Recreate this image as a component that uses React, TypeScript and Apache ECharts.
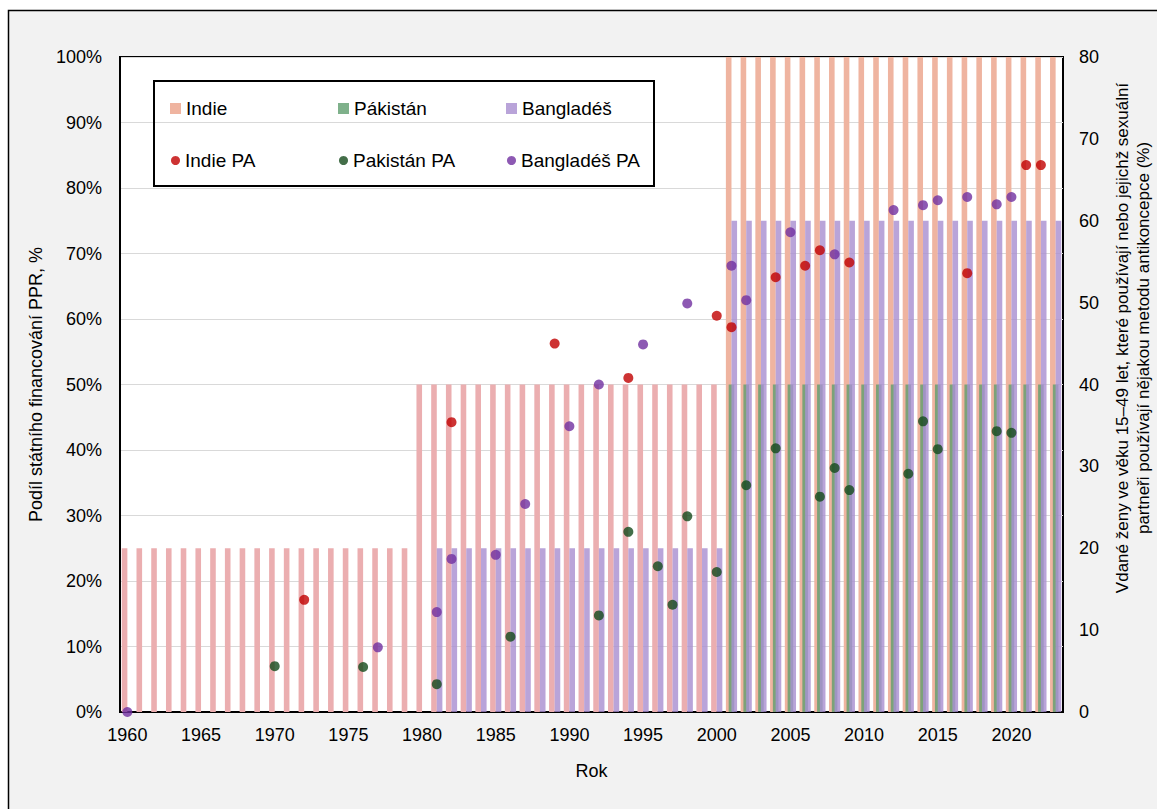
import React, { useEffect, useRef } from "react";
import * as echarts from "echarts";

const years = [
  "1960","1961","1962","1963","1964","1965","1966","1967","1968","1969",
  "1970","1971","1972","1973","1974","1975","1976","1977","1978","1979",
  "1980","1981","1982","1983","1984","1985","1986","1987","1988","1989",
  "1990","1991","1992","1993","1994","1995","1996","1997","1998","1999",
  "2000","2001","2002","2003","2004","2005","2006","2007","2008","2009",
  "2010","2011","2012","2013","2014","2015","2016","2017","2018","2019",
  "2020","2021","2022","2023",
];

// Share of state financing of family planning (%), per year
const indieBars = [
  25,25,25,25,25,25,25,25,25,25,
  25,25,25,25,25,25,25,25,25,25,
  50,50,50,50,50,50,50,50,50,50,
  50,50,50,50,50,50,50,50,50,50,
  50,100,100,100,100,100,100,100,100,100,
  100,100,100,100,100,100,100,100,100,100,
  100,100,100,100,
];
const pakistanBars = [
  0,0,0,0,0,0,0,0,0,0,
  0,0,0,0,0,0,0,0,0,0,
  0,0,0,0,0,0,0,0,0,0,
  0,0,0,0,0,0,0,0,0,0,
  0,50,50,50,50,50,50,50,50,50,
  50,50,50,50,50,50,50,50,50,50,
  50,50,50,50,
];
const bangladeshBars = [
  0,0,0,0,0,0,0,0,0,0,
  0,0,0,0,0,0,0,0,0,0,
  0,25,25,25,25,25,25,25,25,25,
  25,25,25,25,25,25,25,25,25,25,
  25,75,75,75,75,75,75,75,75,75,
  75,75,75,75,75,75,75,75,75,75,
  75,75,75,75,
];

// Contraceptive prevalence (%), right axis
const indiePA: [string, number][] = [
  ["1972", 13.7], ["1982", 35.4], ["1989", 45.0], ["1994", 40.8],
  ["2000", 48.4], ["2001", 47.0], ["2004", 53.1], ["2006", 54.5],
  ["2007", 56.4], ["2009", 54.9], ["2017", 53.6], ["2021", 66.8],
  ["2022", 66.8],
];
const pakistanPA: [string, number][] = [
  ["1970", 5.6], ["1976", 5.5], ["1981", 3.4], ["1986", 9.2],
  ["1992", 11.8], ["1994", 22.0], ["1996", 17.8], ["1997", 13.1],
  ["1998", 23.9], ["2000", 17.1], ["2002", 27.7], ["2004", 32.2],
  ["2007", 26.3], ["2008", 29.8], ["2009", 27.1], ["2013", 29.1],
  ["2014", 35.5], ["2015", 32.1], ["2019", 34.3], ["2020", 34.1],
];
const bangladeshPA: [string, number][] = [
  ["1960", 0], ["1977", 7.9], ["1981", 12.2], ["1982", 18.7],
  ["1985", 19.2], ["1987", 25.4], ["1990", 34.9], ["1992", 40.0],
  ["1995", 44.9], ["1998", 49.9], ["2001", 54.5], ["2002", 50.3],
  ["2005", 58.6], ["2008", 55.9], ["2012", 61.3], ["2014", 61.9],
  ["2015", 62.5], ["2017", 62.9], ["2019", 62.0], ["2020", 62.9],
];

const FONT = "Liberation Sans, Arial, sans-serif";

export default function App() {
  const ref = useRef<HTMLDivElement>(null);
  useEffect(() => {
    if (!ref.current) return;
    const chart = echarts.init(ref.current, null, { renderer: "svg" });
    const indieColorEarly = "#ebaeb0";
    const indieColorLate = "#efb4a0";
    const legendBase = {
      orient: "horizontal",
      padding: 0,
      itemGap: 0,
      textStyle: { fontFamily: FONT, fontSize: 19, color: "#000", lineHeight: 22 },
    };
    const option: any = {
      animation: false,
      backgroundColor: "#fff",
      textStyle: { fontFamily: FONT },
      grid: {
        left: 120, right: 94, top: 57, bottom: 97,
        show: true, backgroundColor: "#fff", borderColor: "#000", borderWidth: 2,
        containLabel: false,
      },
      legend: [
        { ...legendBase, left: 170, top: 97.5, itemWidth: 11, itemHeight: 11, icon: "rect", data: ["Indie"] },
        { ...legendBase, left: 338, top: 97.5, itemWidth: 11, itemHeight: 11, icon: "rect", data: ["Pákistán"] },
        { ...legendBase, left: 506, top: 97.5, itemWidth: 11, itemHeight: 11, icon: "rect", data: ["Bangladéš"] },
        { ...legendBase, left: 171, top: 149.5, itemWidth: 9, itemHeight: 9, icon: "circle", data: ["Indie PA"] },
        { ...legendBase, left: 339, top: 149.5, itemWidth: 9, itemHeight: 9, icon: "circle", data: ["Pakistán PA"] },
        { ...legendBase, left: 507, top: 149.5, itemWidth: 9, itemHeight: 9, icon: "circle", data: ["Bangladéš PA"] },
      ],
      xAxis: {
        type: "category",
        data: years,
        boundaryGap: true,
        name: "Rok",
        nameLocation: "middle",
        nameGap: 50,
        nameTextStyle: { fontFamily: FONT, fontSize: 18, color: "#000" },
        axisLine: { show: true, lineStyle: { color: "#000", width: 2 } },
        axisTick: { show: false },
        axisLabel: { interval: 4, margin: 14, fontFamily: FONT, fontSize: 18, color: "#000" },
        splitLine: { show: false },
      },
      yAxis: [
        {
          type: "value",
          min: 0, max: 100, interval: 10,
          name: "Podíl státního financování PPR, %",
          nameLocation: "middle",
          nameGap: 74,
          nameTextStyle: { fontFamily: FONT, fontSize: 18, color: "#000" },
          axisLine: { show: true, lineStyle: { color: "#000", width: 2 } },
          axisTick: { show: false },
          axisLabel: { formatter: "{value}%", margin: 18, fontFamily: FONT, fontSize: 18, color: "#000" },
          splitLine: { show: true, lineStyle: { color: "#d9d9d9", width: 1 } },
        },
        {
          type: "value",
          min: 0, max: 80, interval: 10,
          position: "right",
          axisLine: { show: false },
          axisTick: { show: false },
          axisLabel: { margin: 16, fontFamily: FONT, fontSize: 18, color: "#000" },
          splitLine: { show: false },
        },
      ],
      graphic: [
        {
          type: "rect", z: -10, silent: true,
          shape: { x: 8.5, y: 10.5, width: 1200, height: 900 },
          style: { fill: "#f2f2f2", stroke: "#000", lineWidth: 1.5 },
        },
        {
          type: "rect", z: 100, silent: true,
          shape: { x: 154, y: 81, width: 500, height: 105 },
          style: { fill: "none", stroke: "#000", lineWidth: 2 },
        },
        {
          type: "text", z: 100, silent: true,
          x: 1133, y: 338, rotation: Math.PI / 2,
          style: {
            text: "Vdané ženy ve věku 15–49 let, které používají nebo jejichž sexuální\npartneři používají nějakou metodu antikoncepce (%)",
            fontFamily: FONT, fontSize: 17, lineHeight: 21, fill: "#000",
            align: "center", verticalAlign: "middle",
          },
        },
      ],
      series: [
        {
          name: "Indie", type: "bar", yAxisIndex: 0,
          barWidth: 5.6, barGap: "-50%",
          itemStyle: { color: indieColorLate },
          data: indieBars.map((v, i) => ({
            value: v,
            itemStyle: { color: Number(years[i]) <= 2000 ? indieColorEarly : indieColorLate },
          })),
        },
        {
          name: "Pákistán", type: "bar", yAxisIndex: 0,
          barWidth: 5.6, barGap: "-50%",
          itemStyle: { color: "#5f9e6e", opacity: 0.8 },
          data: pakistanBars,
        },
        {
          name: "Bangladéš", type: "bar", yAxisIndex: 0,
          barWidth: 5.6, barGap: "-50%",
          itemStyle: { color: "#a88dcf", opacity: 0.8 },
          data: bangladeshBars,
        },
        {
          name: "Indie PA", type: "scatter", yAxisIndex: 1,
          symbolSize: 10, itemStyle: { color: "#c00000" }, z: 10,
          data: indiePA,
        },
        {
          name: "Pakistán PA", type: "scatter", yAxisIndex: 1,
          symbolSize: 10, itemStyle: { color: "#144a1c" }, z: 10,
          data: pakistanPA,
        },
        {
          name: "Bangladéš PA", type: "scatter", yAxisIndex: 1,
          symbolSize: 10, itemStyle: { color: "#7030a0" }, z: 10,
          data: bangladeshPA,
        },
      ],
    };
    chart.setOption(option);
    return () => chart.dispose();
  }, []);
  return (
    <div
      ref={ref}
      style={{ position: "absolute", left: 0, top: 0, width: 1157, height: 809 }}
    />
  );
}
